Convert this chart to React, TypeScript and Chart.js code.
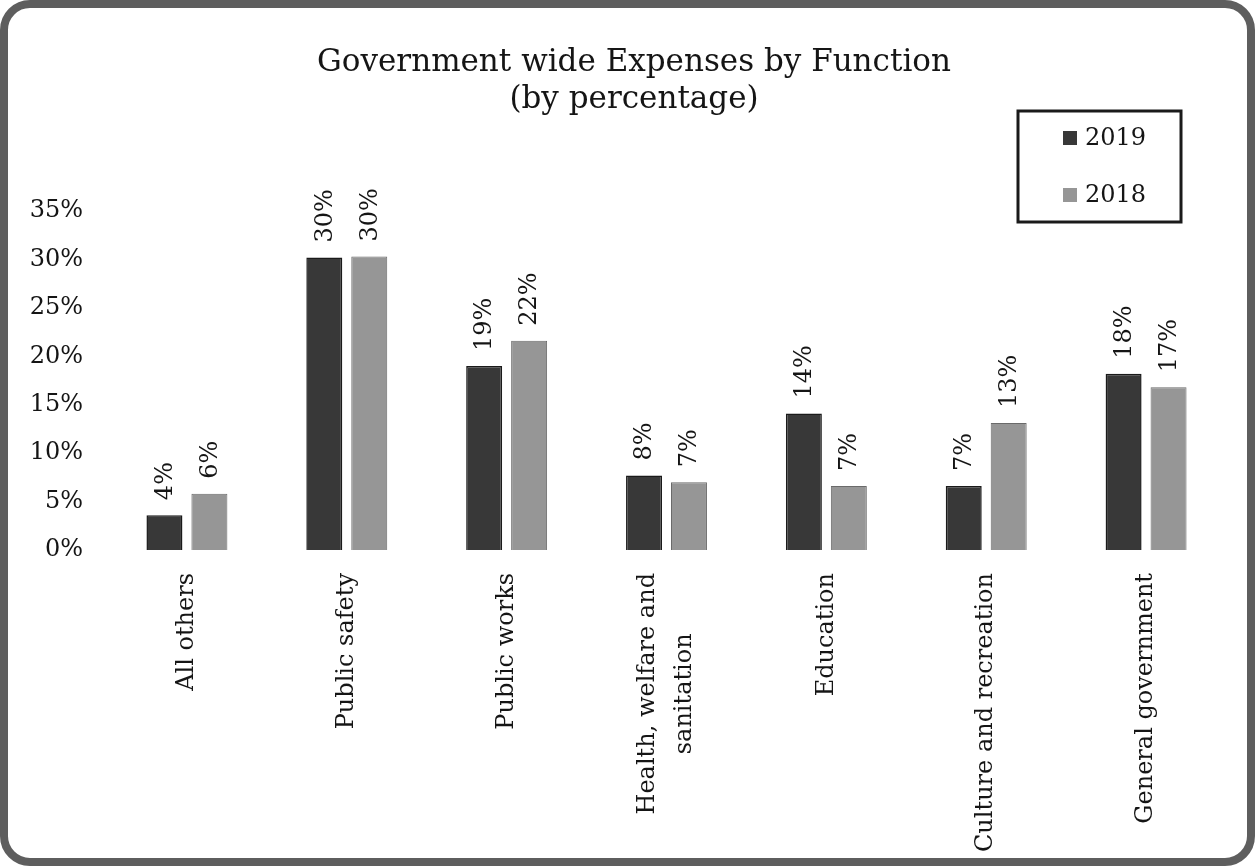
import React, { useEffect, useRef } from "react";
import { Chart, registerables } from "chart.js";

Chart.register(...registerables);

const FONT = "'DejaVu Serif', 'Liberation Serif', serif";

const titleLines = ["Government wide Expenses by Function", "(by percentage)"];

const categories: (string | string[])[] = [
  "All others",
  "Public safety",
  "Public works",
  ["Health, welfare and", "sanitation"],
  "Education",
  "Culture and recreation",
  "General government",
];

const seriesNames = ["2019", "2018"];
const values2019 = [3.6, 30.2, 19.0, 7.7, 14.1, 6.6, 18.2];
const values2018 = [5.8, 30.3, 21.6, 7.0, 6.6, 13.1, 16.8];

const yMin = 0;
const yMax = 35;
const yStep = 5;

const colors2019 = { fill: "#383838", border: "#1a1a1a" };
const colors2018 = { fill: "#969696", border: "#6a6a6a" };

const overlayPlugin = {
  id: "overlay",
  afterDraw(chart: any) {
    const ctx: CanvasRenderingContext2D = chart.ctx;
    const area = chart.chartArea;
    const xScale = chart.scales.x;
    ctx.save();
    ctx.fillStyle = "#151515";

    // title
    ctx.font = `31px ${FONT}`;
    ctx.textAlign = "center";
    ctx.textBaseline = "alphabetic";
    ctx.fillText(titleLines[0], 634, 71);
    ctx.fillText(titleLines[1], 634, 108);

    // data labels (rotated)
    ctx.font = `24px ${FONT}`;
    chart.data.datasets.forEach((ds: any, di: number) => {
      const meta = chart.getDatasetMeta(di);
      meta.data.forEach((bar: any, i: number) => {
        const v = ds.data[i];
        ctx.save();
        ctx.translate(bar.x + 1, bar.y - 15);
        ctx.rotate(-Math.PI / 2);
        ctx.textAlign = "left";
        ctx.textBaseline = "middle";
        ctx.fillText(Math.round(v) + "%", 0, 0);
        ctx.restore();
      });
    });

    // category labels (rotated, multi-line centred)
    chart.data.labels.forEach((lab: any, i: number) => {
      const lines: string[] = Array.isArray(lab) ? lab : [lab];
      const cx = xScale.getPixelForValue(i);
      const maxW = Math.max(...lines.map((l) => ctx.measureText(l).width));
      ctx.save();
      ctx.translate(cx, area.bottom + 23);
      ctx.rotate(-Math.PI / 2);
      ctx.textAlign = "center";
      ctx.textBaseline = "middle";
      lines.forEach((l, k) => {
        ctx.fillText(l, -maxW / 2, (k - (lines.length - 1) / 2) * 37);
      });
      ctx.restore();
    });

    // legend box
    const lx = 1018;
    const ly = 111;
    const lw = 163;
    const lh = 111;
    ctx.lineWidth = 3;
    ctx.strokeStyle = "#1a1a1a";
    ctx.strokeRect(lx, ly, lw, lh);
    chart.data.datasets.forEach((ds: any, di: number) => {
      const cy = ly + 27 + di * 57;
      ctx.fillStyle = ds.backgroundColor;
      ctx.fillRect(lx + 45, cy - 7, 14, 14);
      ctx.fillStyle = "#151515";
      ctx.font = `24px ${FONT}`;
      ctx.textAlign = "left";
      ctx.textBaseline = "middle";
      ctx.fillText(ds.label, lx + 67, cy + 1);
    });

    ctx.restore();
  },
};

export default function App() {
  const canvasRef = useRef<HTMLCanvasElement | null>(null);

  useEffect(() => {
    if (!canvasRef.current) return;
    const chart = new Chart(canvasRef.current, {
      type: "bar",
      data: {
        labels: categories as any,
        datasets: [
          {
            label: seriesNames[0],
            data: values2019,
            backgroundColor: colors2019.fill,
            borderColor: colors2019.border,
            borderWidth: 1.5,
            categoryPercentage: 0.5625,
            barPercentage: 0.8,
          },
          {
            label: seriesNames[1],
            data: values2018,
            backgroundColor: colors2018.fill,
            borderColor: colors2018.border,
            borderWidth: 1,
            categoryPercentage: 0.5625,
            barPercentage: 0.8,
          },
        ],
      },
      options: {
        responsive: false,
        animation: false,
        layout: { padding: { top: 211, right: 29, left: 0, bottom: 0 } },
        plugins: {
          legend: { display: false },
          title: { display: false },
          tooltip: { enabled: false },
        },
        scales: {
          x: {
            grid: { display: false, drawTicks: false },
            border: { display: false },
            ticks: { display: false },
            afterFit: (s: any) => {
              s.height = 866 - 550;
            },
          },
          y: {
            min: yMin,
            max: yMax,
            ticks: {
              stepSize: yStep,
              callback: (v: any) => v + "%",
              font: { family: FONT, size: 24 },
              color: "#151515",
              padding: 24,
            },
            grid: { display: false, drawTicks: false },
            border: { display: false },
            afterFit: (s: any) => {
              s.width = 107;
            },
          },
        },
      },
      plugins: [overlayPlugin],
    });
    return () => chart.destroy();
  }, []);

  return (
    <div style={{ position: "absolute", left: 0, top: 0, width: 1255, height: 866, background: "#fff" }}>
      <canvas ref={canvasRef} width={1255} height={866} style={{ position: "absolute", left: 0, top: 0 }} />
      <div
        style={{
          position: "absolute",
          left: 0,
          top: 0,
          width: 1255,
          height: 866,
          boxSizing: "border-box",
          border: "8px solid #5e5e5e",
          borderRadius: 30,
          pointerEvents: "none",
        }}
      />
    </div>
  );
}
